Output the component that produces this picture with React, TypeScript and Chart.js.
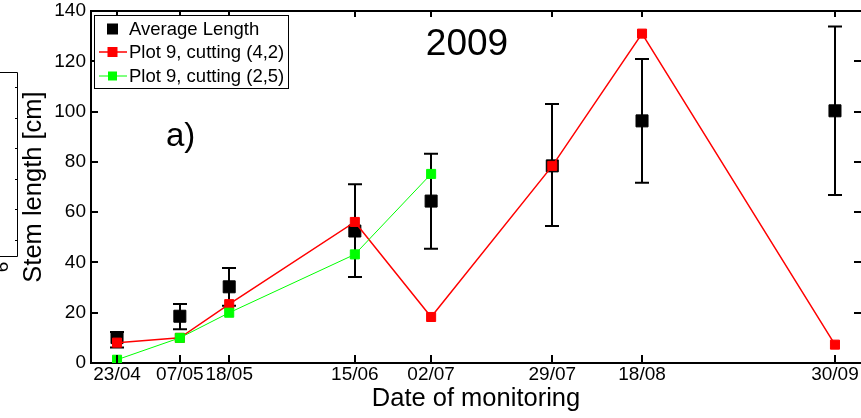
import React, { useEffect, useRef } from "react";
import { Chart, registerables } from "chart.js";

Chart.register(...registerables);

const FONT = "'Liberation Sans', Arial, Helvetica, sans-serif";

// Monitoring dates (labels) and their day-of-year positions on the x axis
const dateLabels = ["23/04", "07/05", "18/05", "15/06", "02/07", "29/07", "18/08", "30/09"];
const dayOfYear = [113, 127, 138, 166, 183, 210, 230, 273];

// Average stem length with error bar bounds
const avgLength = [10.1, 18.6, 30.3, 52.5, 64.4, 78.4, 96.3, 100.3];
const avgLower = [6.2, 13.4, 22.8, 34.2, 45.4, 54.5, 71.7, 66.8];
const avgUpper = [12.3, 23.5, 37.8, 71.1, 83.2, 103.0, 120.9, 133.8];

// Plot 9 series
const plot9Cut42 = [8.1, 10.0, 23.4, 56.1, 18.3, 78.4, 131.0, 7.3];
const plot9Cut25 = [1.3, 10.0, 20.0, 43.2, 75.2];

const yTickValues = [0, 20, 40, 60, 80, 100, 120, 140];
const legendLabels = ["Average Length", "Plot 9, cutting (4,2)", "Plot 9, cutting (2,5)"];
const legendColors = ["#000000", "#ff0000", "#00ff00"];

export default function App() {
  const ref = useRef<HTMLCanvasElement | null>(null);

  useEffect(() => {
    const canvas = ref.current;
    if (!canvas) return;

    const errorBars = {
      id: "errorBars",
      beforeDatasetsDraw(chart: any) {
        const { ctx, scales } = chart;
        const xs = scales.x;
        const ys = scales.y;
        ctx.save();
        ctx.strokeStyle = "#000";
        ctx.lineWidth = 2;
        for (let i = 0; i < dayOfYear.length; i++) {
          const x = Math.round(xs.getPixelForValue(dayOfYear[i]));
          const yt = ys.getPixelForValue(avgUpper[i]);
          const yb = ys.getPixelForValue(avgLower[i]);
          ctx.beginPath();
          ctx.moveTo(x, yt);
          ctx.lineTo(x, yb);
          ctx.moveTo(x - 7, yt);
          ctx.lineTo(x + 7, yt);
          ctx.moveTo(x - 7, yb);
          ctx.lineTo(x + 7, yb);
          ctx.stroke();
        }
        ctx.restore();
      },
    };

    const decorations = {
      id: "decorations",
      afterDraw(chart: any) {
        const { ctx, scales, chartArea } = chart;
        const xs = scales.x;
        const ys = scales.y;
        const { left, right, top, bottom } = chartArea;
        ctx.save();
        // top frame line
        ctx.strokeStyle = "#000";
        ctx.lineWidth = 2;
        ctx.beginPath();
        ctx.moveTo(left - 1, top);
        ctx.lineTo(chart.width, top);
        ctx.stroke();
        // inward ticks
        ctx.beginPath();
        for (const d of dayOfYear) {
          const x = Math.round(xs.getPixelForValue(d));
          ctx.moveTo(x, bottom);
          ctx.lineTo(x, bottom - 8);
          ctx.moveTo(x, top);
          ctx.lineTo(x, top + 6);
        }
        for (const v of yTickValues) {
          if (v === 0 || v === 140) continue;
          const y = Math.round(ys.getPixelForValue(v));
          ctx.moveTo(left, y);
          ctx.lineTo(left + 7, y);
          ctx.moveTo(right, y);
          ctx.lineTo(right - 7, y);
        }
        ctx.stroke();

        // title and panel label
        ctx.fillStyle = "#000";
        ctx.textBaseline = "alphabetic";
        ctx.textAlign = "center";
        ctx.font = `37px ${FONT}`;
        ctx.fillText("2009", 467, 55);
        ctx.textAlign = "left";
        ctx.font = `33px ${FONT}`;
        ctx.fillText("a)", 166, 146);

        // legend
        ctx.lineWidth = 1;
        ctx.strokeStyle = "#000";
        ctx.fillStyle = "#fff";
        ctx.fillRect(94.5, 15.5, 194, 73);
        ctx.strokeRect(94.5, 15.5, 194, 73);
        const rows = [29, 52, 76];
        const sizes = [11, 10, 9];
        ctx.font = `18.5px ${FONT}`;
        ctx.textBaseline = "middle";
        for (let i = 0; i < legendLabels.length; i++) {
          const y = rows[i];
          if (i > 0) {
            ctx.strokeStyle = legendColors[i];
            ctx.lineWidth = i === 1 ? 1.5 : 1;
            ctx.beginPath();
            ctx.moveTo(99, y);
            ctx.lineTo(127, y);
            ctx.stroke();
          }
          ctx.fillStyle = legendColors[i];
          const s = sizes[i];
          ctx.fillRect(112.5 - s / 2, y - s / 2, s, s);
          ctx.fillStyle = "#000";
          ctx.fillText(legendLabels[i], 129, y + 1);
        }

        // fragment of neighbouring panel at the far left
        ctx.strokeStyle = "#000";
        ctx.lineWidth = 1;
        ctx.beginPath();
        ctx.moveTo(0, 72.5);
        ctx.lineTo(17.5, 72.5);
        ctx.lineTo(17.5, 256.5);
        ctx.lineTo(0, 256.5);
        for (let k = 0; k < 6; k++) {
          const y = Math.round(87 + k * 30.6) + 0.5;
          ctx.moveTo(15, y);
          ctx.lineTo(17.5, y);
        }
        ctx.stroke();
        ctx.save();
        ctx.translate(8, 267);
        ctx.rotate(-Math.PI / 2);
        ctx.textAlign = "center";
        ctx.textBaseline = "alphabetic";
        ctx.font = `19px ${FONT}`;
        ctx.fillStyle = "#000";
        ctx.fillText("6", 0, 0);
        ctx.restore();
        ctx.restore();
      },
    };

    const chart = new Chart(canvas, {
      type: "scatter",
      data: {
        datasets: [
          {
            label: legendLabels[0],
            data: dayOfYear.map((d, i) => ({ x: d, y: avgLength[i] })),
            showLine: false,
            pointStyle: "rect",
            pointRadius: 8.5,
            pointBackgroundColor: "#000",
            pointBorderColor: "#000",
            pointBorderWidth: 1,
            order: 3,
          },
          {
            label: legendLabels[1],
            data: dayOfYear.map((d, i) => ({ x: d, y: plot9Cut42[i] })),
            showLine: true,
            borderColor: "#ff0000",
            borderWidth: 1.5,
            pointStyle: "rect",
            pointRadius: 6.4,
            pointBackgroundColor: "#ff0000",
            pointBorderColor: "#ff0000",
            pointBorderWidth: 1,
            order: 2,
          },
          {
            label: legendLabels[2],
            data: plot9Cut25.map((v, i) => ({ x: dayOfYear[i], y: v })),
            showLine: true,
            borderColor: "#00ff00",
            borderWidth: 1,
            pointStyle: "rect",
            pointRadius: 6.4,
            pointBackgroundColor: "#00ff00",
            pointBorderColor: "#00ff00",
            pointBorderWidth: 1,
            order: 1,
          },
        ],
      },
      options: {
        animation: false,
        responsive: false,
        devicePixelRatio: 1,
        layout: { autoPadding: false, padding: { top: 11, left: 0, right: 0, bottom: 0 } },
        plugins: {
          legend: { display: false },
          tooltip: { enabled: false },
        },
        scales: {
          x: {
            type: "linear",
            min: 107.2,
            max: 278.8,
            afterBuildTicks: (s: any) => {
              s.ticks = dayOfYear.map((v) => ({ value: v }));
            },
            afterFit: (s: any) => {
              s.height = 55;
              s.paddingLeft = 0;
              s.paddingRight = 0;
            },
            ticks: {
              autoSkip: false,
              maxRotation: 0,
              minRotation: 0,
              padding: 0,
              color: "#000",
              font: { family: FONT, size: 19 },
              callback: (v: any) => {
                const i = dayOfYear.indexOf(Number(v));
                return i >= 0 ? dateLabels[i] : "";
              },
            },
            grid: { display: false, drawTicks: false },
            border: { display: true, color: "#000", width: 2 },
            title: {
              display: true,
              text: "Date of monitoring",
              color: "#000",
              font: { family: FONT, size: 25.5 },
              padding: { top: 0, bottom: 3.5 },
            },
          },
          y: {
            min: 0,
            max: 140,
            afterBuildTicks: (s: any) => {
              s.ticks = yTickValues.map((v) => ({ value: v }));
            },
            afterFit: (s: any) => {
              s.width = 91;
              s.paddingTop = 0;
              s.paddingBottom = 0;
            },
            ticks: {
              padding: 5,
              color: "#000",
              font: { family: FONT, size: 19, lineHeight: 1.1 },
            },
            grid: { display: false, drawTicks: false },
            border: { display: true, color: "#000", width: 2 },
            title: {
              display: true,
              text: "Stem length [cm]",
              color: "#000",
              font: { family: FONT, size: 25.5 },
              padding: { top: 19, bottom: 0 },
            },
          },
        },
      },
      plugins: [errorBars, decorations],
    } as any);

    return () => chart.destroy();
  }, []);

  return (
    <div style={{ position: "absolute", left: 0, top: 0, width: 861, height: 418, background: "#fff" }}>
      <canvas ref={ref} width={861} height={418} style={{ display: "block" }} />
    </div>
  );
}
